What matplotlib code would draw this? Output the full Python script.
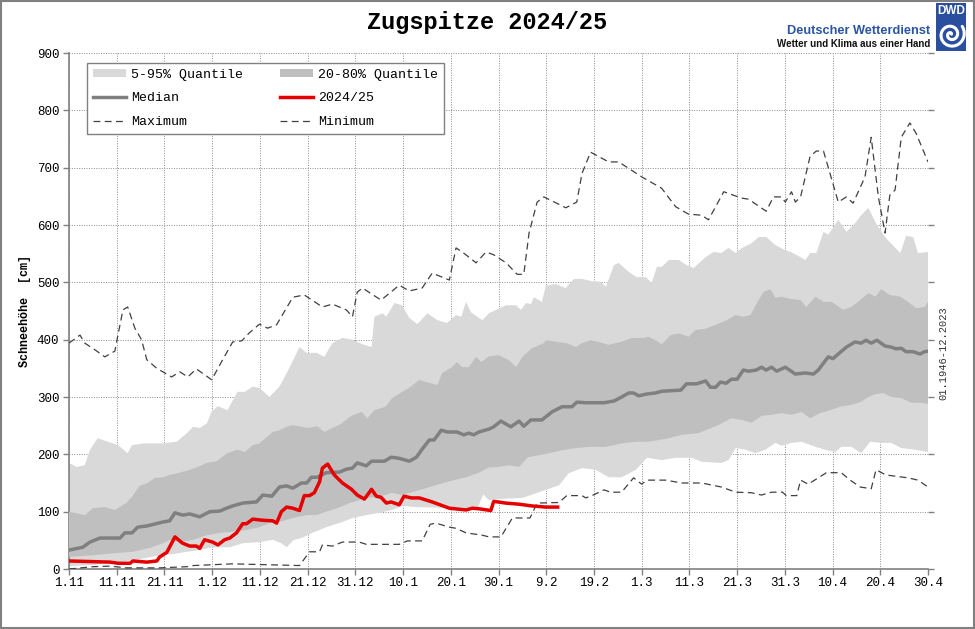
import numpy as np
import matplotlib
matplotlib.use('Agg')
import matplotlib.pyplot as plt
from matplotlib.patches import Rectangle, Patch
from matplotlib.lines import Line2D

# ---------------- data (day index since 1 Nov, value in cm) ----------------
tick_days = [0, 10, 20, 30, 40, 50, 60, 70, 80, 90, 100, 110, 120, 130, 140, 150, 160, 170, 180]
tick_labels = ['1.11', '11.11', '21.11', '1.12', '11.12', '21.12', '31.12', '10.1', '20.1',
               '30.1', '9.2', '19.2', '1.3', '11.3', '21.3', '31.3', '10.4', '20.4', '30.4']
y_ticks = [0, 100, 200, 300, 400, 500, 600, 700, 800, 900]

maximum = [(0, 394), (2.3, 408), (3.3, 394), (5.5, 382), (7.5, 370), (9.6, 380), (11.3, 452), (12.3, 457),
           (13.8, 420), (15.2, 400), (16.3, 365), (18.4, 350), (21.5, 335), (23.2, 344), (24.9, 335),
           (26.7, 349), (29.9, 330), (31.6, 356), (34.3, 396), (36.2, 398), (37.8, 412), (39.9, 427),
           (41.6, 420), (43.5, 426), (46.9, 474), (49.3, 478), (53.1, 457), (55.2, 462), (58.1, 452),
           (59.4, 440), (60.4, 483), (61.5, 490), (65.4, 469), (69.2, 495), (71.3, 485), (74, 490),
           (76.1, 516), (79.7, 504), (81.1, 560), (82.4, 553), (85.3, 534), (87.4, 553), (89, 548),
           (91.6, 534), (93.9, 514), (95.3, 514), (96.4, 586), (98.1, 640), (99.5, 649), (102.2, 638),
           (104.1, 630), (106.4, 640), (107.5, 690), (109.3, 727), (113.1, 710), (115.2, 710), (120, 684),
           (124.2, 664), (127.1, 632), (129.8, 619), (132.6, 617), (134, 609), (137.2, 658), (140.9, 647),
           (142.4, 645), (146.1, 624), (147.6, 649), (149.3, 649), (150.1, 640), (151.4, 658), (152.2, 640),
           (153.3, 649), (155.3, 720), (156.6, 729), (158.1, 729), (161.2, 640), (162.9, 649), (164.3, 638),
           (166.8, 684), (168.1, 753), (169.6, 649), (171, 586), (172, 652), (173.1, 661), (174.4, 753),
           (176.2, 778), (177.5, 760), (180, 710)]

minimum = [(0, 0), (5, 4), (8.6, 5), (12, 2), (19, 2), (24.7, 4), (26, 6), (34.3, 9), (48.3, 6), (50.4, 30),
           (52.5, 30), (53.1, 42), (55.2, 40), (57.3, 47), (60.8, 47), (62.3, 43), (69.2, 43), (70.9, 49),
           (74, 49), (75.7, 78), (76.9, 80), (79.7, 73), (81.1, 71), (83.2, 63), (86.6, 59), (88, 56),
           (90.5, 56), (92.9, 89), (96.6, 89), (98.1, 115), (102.7, 116), (104.3, 128), (107.5, 128),
           (108.3, 124), (109.6, 128), (112.1, 138), (113.5, 134), (115.8, 134), (118.3, 159), (120, 148),
           (121.1, 155), (125, 155), (128.4, 150), (132.6, 150), (136.7, 143), (139.7, 134), (143, 133),
           (145.1, 129), (147.2, 134), (149.5, 134), (150.3, 128), (152.5, 128), (153.3, 155), (154.9, 148),
           (157.4, 161), (158.7, 168), (161.8, 168), (163.7, 155), (165.8, 143), (168.1, 140), (169.1, 173),
           (171.2, 164), (175.8, 159), (177.9, 155), (180, 143)]

median = [(0, 33), (2.9, 38), (4.4, 47), (6.5, 54), (10.7, 54), (11.7, 63), (13.2, 63), (14.4, 73), (16.3, 75),
          (19.7, 82), (21.1, 84), (22.2, 98), (23.8, 94), (25.3, 96), (27.4, 91), (29.5, 100), (31.6, 101),
          (33, 106), (34.3, 110), (36.4, 115), (39.3, 117), (40.6, 129), (42.5, 127), (44.1, 143), (45.6, 145),
          (46.9, 141), (48.7, 150), (49.8, 150), (50.8, 160), (52, 160), (53.9, 168), (56.7, 169), (58.1, 174),
          (59.4, 176), (60.4, 185), (62.3, 180), (63.4, 188), (66.1, 188), (67.5, 195), (69.2, 193),
          (71.3, 188), (72.8, 195), (74, 209), (75.5, 225), (76.5, 225), (78, 242), (79.3, 239), (81.3, 239),
          (82.7, 234), (83.8, 237), (84.8, 234), (85.9, 239), (88, 244), (89, 248), (90.5, 258), (92.6, 248),
          (94.3, 258), (95.3, 249), (96.8, 260), (99.1, 260), (101.2, 274), (103.3, 283), (105.4, 283),
          (106.4, 291), (108.3, 290), (112.1, 290), (114.2, 293), (115.8, 300), (117.3, 307), (118.3, 307),
          (119.4, 302), (120.9, 305), (122.9, 307), (124.2, 310), (128.2, 312), (129.4, 323), (131.5, 323),
          (133.4, 328), (134.4, 317), (135.5, 317), (136.5, 326), (137.7, 324), (138.8, 331), (140, 331),
          (141.3, 347), (142.4, 345), (144, 347), (145.1, 352), (146.1, 347), (147.2, 352), (148.3, 345),
          (150.1, 352), (152.2, 340), (154.3, 342), (156, 340), (157, 347), (159.1, 370), (160.1, 367),
          (161.2, 375), (162.9, 387), (164.7, 396), (166, 394), (167, 399), (168.1, 394), (169.3, 399),
          (171, 389), (172.3, 387), (173.3, 384), (174.4, 385), (175.4, 379), (176.9, 379), (178.3, 375),
          (179.3, 379), (180, 380)]

season_2024 = [(0, 14), (4.4, 13), (8.6, 12), (10.3, 10), (12.8, 10), (13.4, 14), (16.3, 12), (18.4, 14),
               (19, 21), (20.5, 29), (22.2, 56), (23.8, 45), (25.3, 40), (26.7, 40), (27.4, 36), (28.4, 51),
               (30.1, 47), (31.2, 42), (32.6, 51), (33.7, 54), (35.1, 63), (36.4, 79), (37.2, 79), (38.5, 87),
               (40.6, 85), (42.7, 84), (43.5, 80), (44.5, 100), (45.6, 108), (46.9, 106), (48.3, 102),
               (49.3, 128), (50.4, 128), (51.4, 133), (52.5, 152), (53.1, 176), (54.2, 183), (55.6, 164),
               (57.3, 150), (59.2, 139), (60.4, 129), (61.9, 122), (63.4, 139), (64.4, 127), (65.4, 125),
               (66.5, 115), (67.5, 117), (69.2, 112), (70.2, 127), (71.7, 124), (73.4, 124), (76.1, 117),
               (79.7, 106), (83.2, 103), (84.5, 106), (85.9, 105), (88.4, 102), (89, 118), (91.5, 115),
               (94.3, 113), (97, 110), (99.9, 108), (102.4, 108)]

q95 = [(0, 185), (1.6, 178), (3.3, 181), (4.4, 208), (6, 228), (10.3, 216), (12.3, 202), (13.2, 216),
       (15.5, 219), (19.7, 219), (22.6, 222), (24.7, 237), (26, 248), (27.4, 246), (28.9, 254), (29.9, 275),
       (31.2, 284), (33.2, 277), (35.3, 309), (36.8, 309), (38.5, 318), (39.9, 316), (42, 300), (44.1, 318),
       (46.2, 351), (48.3, 387), (49.8, 377), (51.9, 377), (53.5, 370), (55.2, 394), (57.3, 403), (59.4, 400),
       (61.5, 392), (63.4, 387), (64, 440), (65.7, 446), (66.5, 440), (68.2, 464), (69.8, 460), (71.3, 438),
       (73, 427), (75.1, 446), (77.2, 434), (79.2, 429), (81.1, 443), (82.2, 440), (83.2, 466), (84.2, 448),
       (86.6, 434), (88, 446), (89.5, 452), (91.6, 460), (93.7, 460), (94.7, 452), (95.8, 464), (96.8, 462),
       (97.4, 474), (99.1, 466), (99.9, 494), (102, 497), (104.1, 490), (105.8, 506), (107.5, 506),
       (109.6, 502), (111.5, 501), (112.5, 492), (114.2, 530), (115.2, 534), (117.3, 518), (119, 509),
       (120.9, 509), (122.1, 499), (123.2, 527), (124.2, 527), (125.7, 539), (127.8, 539), (129.4, 530),
       (130.9, 525), (133.4, 544), (135.1, 553), (136.7, 551), (138.2, 560), (139.7, 551), (141, 560),
       (143, 568), (144.5, 579), (146.1, 579), (148, 565), (150.1, 556), (151.2, 553), (152.4, 548),
       (154.3, 539), (155.3, 551), (156.6, 551), (158.1, 588), (159.1, 583), (161.2, 609), (162.9, 588),
       (164.7, 603), (166, 617), (167.5, 630), (169.1, 603), (171.2, 577), (172.6, 565), (174.2, 551),
       (175.4, 581), (176.9, 579), (177.9, 551), (180, 553)]

q80 = [(0, 100), (3.3, 94), (5, 106), (7.5, 108), (9.6, 103), (12, 115), (13.2, 126), (14.8, 145), (16.5, 150),
       (18, 159), (19.7, 160), (21.1, 164), (23.2, 168), (25.3, 173), (27, 178), (28.9, 185), (30.9, 188),
       (33.2, 202), (35.3, 208), (36.8, 204), (38.5, 216), (39.9, 219), (41.4, 230), (42.7, 239), (44.1, 242),
       (45.6, 248), (46.9, 251), (48.7, 248), (50, 246), (52, 249), (53.5, 239), (55.2, 246), (57, 253),
       (58.8, 265), (59.4, 268), (61.3, 274), (62.5, 263), (64, 277), (66.3, 283), (67.7, 298), (69.8, 309),
       (71.3, 316), (73.4, 330), (74.8, 326), (77.2, 321), (78.2, 342), (80.1, 351), (81.3, 361), (82.4, 352),
       (83.8, 352), (85.3, 370), (86.4, 361), (88, 371), (90.1, 373), (92.2, 364), (93.7, 352), (95, 370),
       (97, 385), (99.5, 394), (100.1, 399), (102.2, 396), (104.3, 394), (106.2, 387), (107.5, 394),
       (109.4, 399), (111, 396), (113.1, 391), (115.6, 396), (117.9, 403), (120.4, 403), (121.5, 405),
       (122.9, 399), (124.2, 392), (126.1, 408), (127.8, 411), (129.8, 405), (131.3, 417), (133.4, 419),
       (135.5, 426), (137.6, 433), (139.7, 443), (141.3, 440), (142.8, 443), (144.5, 469), (145.5, 483),
       (147, 488), (148, 473), (149.3, 475), (151.2, 471), (153.3, 469), (154.5, 457), (156.4, 475),
       (158.1, 466), (159.8, 466), (162.2, 452), (163.9, 457), (165.8, 469), (167.5, 481), (169, 475),
       (170.2, 488), (172, 478), (174.2, 475), (175.8, 466), (177.5, 455), (179.3, 457), (180, 466)]

q20 = [(0, 21), (5, 24), (10, 28), (13.4, 30), (17, 37), (19.7, 45), (21.1, 51), (23.2, 47), (26, 51), (28.9, 59),
       (31.6, 63), (34.3, 65), (37.2, 68), (39.9, 73), (42, 80), (44.1, 82), (46.9, 89), (49.8, 94), (51.9, 94),
       (53.9, 100), (56.2, 106), (58.8, 115), (60.8, 120), (62.9, 124), (65, 126), (67.7, 133), (69.8, 129),
       (71.9, 134), (74.8, 141), (77.6, 148), (79.7, 153), (83.2, 160), (85.9, 168), (88, 177), (90.1, 178),
       (92.2, 181), (94.3, 178), (96.2, 195), (99.5, 200), (102.7, 206), (105.4, 210), (108.9, 213),
       (112.4, 213), (115.8, 219), (118.8, 222), (121.5, 222), (125, 227), (128.4, 234), (131.9, 237),
       (136.1, 251), (138.8, 263), (141, 260), (143, 255), (145.1, 267), (147.2, 269), (149.3, 272),
       (151.4, 269), (153.5, 274), (155.3, 263), (157.4, 272), (159.5, 277), (161.6, 283), (163.7, 286),
       (165.8, 291), (167.5, 300), (169, 305), (170.6, 307), (172.3, 300), (174.4, 298), (176.5, 290),
       (178.6, 290), (180, 288)]

q05 = [(0, 5), (5, 7), (10, 12), (14.2, 16), (18.4, 23), (21.8, 26), (24.7, 30), (27.4, 33), (29.5, 37), (31, 38),
       (33.7, 38), (36.4, 45), (40, 47), (42.7, 51), (44.5, 45), (45.6, 38), (47, 50), (49, 55), (51, 63),
       (53.9, 73), (57.3, 82), (59.4, 89), (62.3, 94), (65, 98), (67.7, 103), (69.8, 110), (72.8, 108),
       (77, 107), (81, 106), (85.5, 104), (86.8, 130), (88, 120), (90, 122), (95, 124), (99.9, 138),
       (102.7, 146), (104.7, 167), (107.5, 176), (110.4, 173), (113.1, 160), (115.8, 160), (118.8, 173),
       (121.1, 194), (124.2, 190), (127.1, 194), (130.5, 194), (132.6, 187), (136.7, 185), (138.2, 190),
       (139.7, 211), (141.8, 208), (143.8, 202), (145.9, 208), (148, 220), (149.3, 215), (151.4, 220),
       (153.5, 222), (156.4, 213), (158.5, 208), (160.6, 204), (161.8, 213), (164, 213), (166, 202),
       (167.9, 222), (170.2, 220), (172.3, 220), (174.4, 211), (177.3, 208), (180, 204)]

# ---------------- styling ----------------
MONO = 'Liberation Mono'
C_LIGHT = '#d9d9d9'
C_DARK = '#bfbfbf'
C_MED = '#808080'
C_RED = '#e60000'
C_DASH = '#404040'
C_AX = '#808080'


def xy(series):
    d, v = zip(*series)
    return np.array(d, float), np.array(v, float)


W, H = 975, 629
fig = plt.figure(figsize=(W / 100, H / 100), dpi=100)
ax = fig.add_axes([69 / W, (H - 569) / H, (928 - 69) / W, (569 - 53) / H])

# bands
d95, v95 = xy(q95)
d05, v05 = xy(q05)
d80, v80 = xy(q80)
d20, v20 = xy(q20)
ax.fill(np.r_[d95, d05[::-1]], np.r_[v95, v05[::-1]], color=C_LIGHT, lw=0, zorder=2)
ax.fill(np.r_[d80, d20[::-1]], np.r_[v80, v20[::-1]], color=C_DARK, lw=0, zorder=3)

dash = (0, (5.5, 3.5))
dmx, vmx = xy(maximum)
dmn, vmn = xy(minimum)
ax.plot(dmx, vmx, color=C_DASH, lw=0.9, ls=dash, zorder=4)
ax.plot(dmn, vmn, color=C_DASH, lw=0.9, ls=dash, zorder=4)
dmd, vmd = xy(median)
ax.plot(dmd, vmd, color=C_MED, lw=2.5, zorder=5, solid_joinstyle='round')
dr, vr = xy(season_2024)
ax.plot(dr, vr, color=C_RED, lw=2.5, zorder=6, solid_joinstyle='round')

ax.set_xlim(0, 180)
ax.set_ylim(0, 900)
ax.set_xticks(tick_days)
ax.set_xticklabels(tick_labels, fontfamily=MONO, fontsize=9)
ax.set_yticks(y_ticks)
ax.set_yticklabels([str(v) for v in y_ticks], fontfamily=MONO, fontsize=9)
ax.tick_params(axis='both', direction='out', length=4, width=1, color=C_AX)
ax.tick_params(axis='x', pad=2)
ax.tick_params(axis='y', pad=3, right=True)
ax.grid(True, color='#8c8c8c', lw=0.7, ls=(0, (1, 1.5)), zorder=0)
ax.set_axisbelow(True)
for s in ['top', 'right']:
    ax.spines[s].set_visible(False)
for s in ['left', 'bottom']:
    ax.spines[s].set_color(C_AX)
    ax.spines[s].set_linewidth(1.2)

ax.set_ylabel('Schneehöhe  [cm]', fontfamily=MONO, fontsize=8.5, fontweight='bold', labelpad=4)

handles = [Patch(facecolor=C_LIGHT, edgecolor='none'),
           Line2D([], [], color=C_MED, lw=2.5),
           Line2D([], [], color=C_DASH, lw=0.9, ls=dash),
           Patch(facecolor=C_DARK, edgecolor='none'),
           Line2D([], [], color=C_RED, lw=2.5),
           Line2D([], [], color=C_DASH, lw=0.9, ls=dash)]
labels = ['5-95% Quantile', 'Median', 'Maximum', '20-80% Quantile', '2024/25', 'Minimum']
leg = ax.legend(handles, labels, ncol=2, loc='upper left', bbox_to_anchor=(0.021, 0.981),
                borderaxespad=0, prop={'family': MONO, 'size': 9.5}, frameon=True, fancybox=False,
                edgecolor=C_AX, framealpha=1, handlelength=2.5, handleheight=0.55, handletextpad=0.4,
                columnspacing=2.8, labelspacing=0.88, borderpad=0.45)
leg.get_frame().set_linewidth(1.0)
leg.set_zorder(10)

# title and annotations
fig.text(487 / W, 1 - 22 / H, 'Zugspitze 2024/25', ha='center', va='center',
         fontfamily=MONO, fontsize=17, fontweight='bold')
fig.text(943 / W, 1 - 353 / H, '01.1946-12.2023', rotation=90, ha='center', va='center',
         fontfamily=MONO, fontsize=7.5, color='#333333')

# DWD logo
fig.text(930 / W, 1 - 31 / H, 'Deutscher Wetterdienst', ha='right', va='center',
         fontfamily=['Liberation Sans Narrow', 'Liberation Sans'], fontsize=9.2, fontweight='bold',
         color='#2a55a5')
fig.text(930 / W, 1 - 44 / H, 'Wetter und Klima aus einer Hand', ha='right', va='center',
         fontfamily=['Liberation Sans Narrow', 'Liberation Sans'], fontsize=7, fontweight='bold',
         color='#111111')
lax = fig.add_axes([936 / W, 1 - 51 / H, 30 / W, 48 / H])
lax.set_facecolor('#2a4f9e')
lax.set_xlim(-1, 1)
lax.set_ylim(-1.1, 2.1)
lax.set_xticks([])
lax.set_yticks([])
for s in lax.spines.values():
    s.set_visible(False)
lax.text(0, 1.6, 'DWD', ha='center', va='center', color='white', fontsize=8.5, fontweight='bold',
         fontfamily='Liberation Sans')
t = np.linspace(0.6, 4.2 * np.pi, 300)
r = 0.07 * t
lax.plot(r * np.cos(t), 0.0 + r * np.sin(t) * 1.0, color='white', lw=2.2, solid_capstyle='round')

# figure border
fig.add_artist(Rectangle((0.0008, 0.0012), 0.9984, 0.9976, transform=fig.transFigure, fill=False,
                         edgecolor='#808080', lw=1.5))

fig.savefig('out.png', dpi=100)
